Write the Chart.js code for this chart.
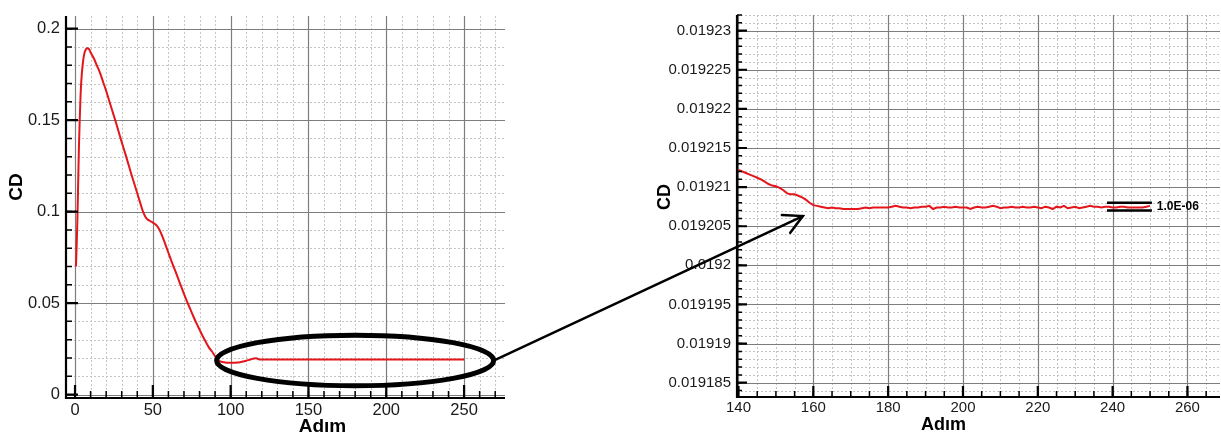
<!DOCTYPE html>
<html><head><meta charset="utf-8">
<script src="https://cdn.jsdelivr.net/npm/chart.js@4"></script>
<style>
html,body{margin:0;padding:0;background:#fff;width:1221px;height:437px;overflow:hidden;}
#wrapL{position:absolute;left:0;top:0;width:520px;height:437px;}
#wrapR{position:absolute;left:640px;top:0;width:581px;height:437px;}
#overlay{position:absolute;left:0;top:0;width:1221px;height:437px;pointer-events:none;}
</style></head><body>
<div id="wrapL"><canvas id="cL"></canvas></div>
<div id="wrapR"><canvas id="cR"></canvas></div>
<canvas id="overlay" width="1221" height="437"></canvas>
<script>
// ---------------- data ----------------
const xTitle = 'Adım';
const yTitle = 'CD';
const bracketLabel = '1.0E-06';

const leftSteps = [0.6,1,1.5,2,2.5,3,3.5,4,5,6,7,8,9,10,
  12,14,16,18,20,22,24,26,28,30,32,34,36,38,40,42,44,46,48,50,52,54,56,58,60,62,64,66,68,70,
  72,74,76,78,80,82,84,86,88,90,92,94,96,98,100,102,104,106,108,110,112,114,116,117,118,
  120,130,140,150,160,170,180,190,200,210,220,230,240,250];
const leftCD = [0.070,0.080,0.095,0.115,0.135,0.150,0.162,0.171,0.181,0.1865,0.1888,0.1893,0.1888,0.1870,
  0.1840,0.1800,0.1760,0.1710,0.1660,0.1605,0.1550,0.1495,0.1438,0.1380,0.1325,0.1268,0.1210,0.1155,0.1100,0.1045,0.0993,0.0962,0.0950,0.0940,0.0928,0.0905,0.0868,0.0822,0.0775,0.0728,0.0685,0.0640,0.0595,0.0550,
  0.0508,0.0468,0.0428,0.0390,0.0355,0.0320,0.0288,0.0258,0.0235,0.0210,0.0188,0.0179,0.0176,0.0174,0.0174,0.0174,0.0175,0.0177,0.0181,0.0185,0.0190,0.0195,0.0198,0.0197,0.0193,
  0.0192,0.0192,0.0192,0.0192,0.0192,0.0192,0.0192,0.0192,0.0192,0.0192,0.0192,0.0192,0.0192,0.0192];
const leftXTicks = [0,50,100,150,200,250];
const leftXLabels = ['0','50','100','150','200','250'];
const leftYTicks = [0,0.05,0.1,0.15,0.2];
const leftYLabels = ['0','0.05','0.1','0.15','0.2'];

const rightSteps = [140,141,142,143,144,145,146,147,148,149,150,151,152,153,154,155,156,157,158,159,
  160,161,162,163,164,165,166,167,168,169,170,171,172,173,174,175,176,177,178,179,
  180,181,182,183,184,185,186,187,188,189,190,191,192,193,194,195,196,197,198,199,
  200,201,202,203,204,205,206,207,208,209,210,211,212,213,214,215,216,217,218,219,
  220,221,222,223,224,225,226,227,228,229,230,231,232,233,234,235,236,237,238,239,
  240,241,242,243,244,245,246,247,248,249,250];
const rightCD = [0.0192122,0.0192120,0.0192118,0.0192116,0.0192114,0.0192112,0.0192110,0.0192107,0.0192104,0.0192102,
  0.0192101,0.0192099,0.0192096,0.0192092,0.0192091,0.0192091,0.0192089,0.0192087,0.0192084,0.0192080,
  0.0192077,0.0192076,0.0192075,0.0192074,0.0192073,0.0192074,0.0192073,0.0192073,0.0192072,0.0192072,
  0.0192072,0.0192072,0.0192072,0.0192073,0.0192074,0.0192073,0.0192074,0.0192074,0.0192074,0.0192074,
  0.0192074,0.0192075,0.0192076,0.0192075,0.0192074,0.0192074,0.0192073,0.0192074,0.0192074,0.0192075,
  0.0192075,0.0192076,0.0192072,0.0192074,0.0192074,0.0192075,0.0192074,0.0192074,0.0192075,0.0192074,
  0.0192074,0.0192074,0.0192072,0.0192074,0.0192075,0.0192074,0.0192074,0.0192075,0.0192076,0.0192075,
  0.0192073,0.0192074,0.0192074,0.0192075,0.0192074,0.0192074,0.0192075,0.0192074,0.0192074,0.0192075,
  0.0192074,0.0192073,0.0192075,0.0192074,0.0192072,0.0192075,0.0192074,0.0192076,0.0192073,0.0192074,
  0.0192075,0.0192073,0.0192074,0.0192075,0.0192076,0.0192075,0.0192075,0.0192074,0.0192075,0.0192075,
  0.0192074,0.0192074,0.0192075,0.0192075,0.0192074,0.0192074,0.0192074,0.0192074,0.0192074,0.0192075,0.0192076];
const rightXTicks = [140,160,180,200,220,240,260];
const rightXLabels = ['140','160','180','200','220','240','260'];
const rightYTicks = [0.019185,0.01919,0.019195,0.0192,0.019205,0.01921,0.019215,0.01922,0.019225,0.01923];
const rightYLabels = ['0.019185','0.01919','0.019195','0.0192','0.019205','0.01921','0.019215','0.01922','0.019225','0.01923'];

// ---------------- styling / layout ----------------
const FONT = '"Liberation Sans", Arial, Helvetica, sans-serif';
Chart.defaults.font.family = FONT;
const RED = '#e3161c';

function range(start, step, count){ const a=[]; for(let i=0;i<count;i++) a.push(start+i*step); return a; }

const tecplot = {
  id:'tecplot',
  beforeDatasetsDraw(chart, args, o){
    const {ctx, chartArea:a, scales:{x,y}} = chart;
    ctx.save();
    ctx.beginPath(); ctx.rect(a.left,a.top,a.right-a.left,a.bottom-a.top); ctx.clip();
    ctx.lineWidth = 1;
    ctx.strokeStyle = '#c4c4c4'; ctx.setLineDash([2,2]);
    ctx.beginPath();
    o.minorX.forEach(v=>{ const p=Math.round(x.getPixelForValue(v))+0.5; ctx.moveTo(p,a.top); ctx.lineTo(p,a.bottom); });
    o.minorY.forEach(v=>{ const p=Math.round(y.getPixelForValue(v))+0.5; ctx.moveTo(a.left,p); ctx.lineTo(a.right,p); });
    ctx.stroke();
    ctx.setLineDash([]);
    ctx.strokeStyle = '#7d7d7d'; ctx.lineWidth = 1.2;
    ctx.beginPath();
    o.majorX.forEach(v=>{ const p=Math.round(x.getPixelForValue(v))+0.5; ctx.moveTo(p,a.top); ctx.lineTo(p,a.bottom); });
    o.majorY.forEach(v=>{ const p=Math.round(y.getPixelForValue(v))+0.5; ctx.moveTo(a.left,p); ctx.lineTo(a.right,p); });
    ctx.stroke();
    ctx.restore();
  },
  afterDatasetsDraw(chart, args, o){
    const {ctx, chartArea:a, scales:{x,y}} = chart;
    ctx.save();
    ctx.strokeStyle = '#000';
    ctx.lineWidth = 1.5;
    ctx.beginPath();
    o.minorX.forEach(v=>{ const p=x.getPixelForValue(v); ctx.moveTo(p,a.bottom); ctx.lineTo(p,a.bottom-o.minorLen); });
    o.minorY.forEach(v=>{ const p=y.getPixelForValue(v); ctx.moveTo(a.left,p); ctx.lineTo(a.left+o.minorLen,p); });
    ctx.stroke();
    ctx.lineWidth = 2.2;
    ctx.beginPath();
    o.majorX.forEach(v=>{ const p=x.getPixelForValue(v); ctx.moveTo(p,a.bottom); ctx.lineTo(p,a.bottom-o.majorLen); });
    o.majorY.forEach(v=>{ const p=y.getPixelForValue(v); ctx.moveTo(a.left,p); ctx.lineTo(a.left+o.majorLen,p); });
    ctx.stroke();
    ctx.lineWidth = 2.2;
    ctx.beginPath();
    ctx.moveTo(a.left, a.top); ctx.lineTo(a.left, a.bottom+1); ctx.lineTo(a.right, a.bottom+1);
    ctx.stroke();
    ctx.fillStyle = '#000';
    ctx.textAlign = 'center'; ctx.textBaseline = 'middle';
    ctx.font = 'bold ' + o.xTitleSize + 'px ' + FONT;
    ctx.fillText(xTitle, x.getPixelForValue(o.xTitleAt), o.xTitleY);
    ctx.save();
    ctx.translate(o.yTitleX, o.yTitleY); ctx.rotate(-Math.PI/2);
    ctx.font = 'bold ' + o.yTitleSize + 'px ' + FONT;
    ctx.fillText(yTitle, 0, 0);
    ctx.restore();
    if (o.ellipse){
      const e=o.ellipse;
      const cx=x.getPixelForValue(e.cx), cy=y.getPixelForValue(e.cy);
      const rx=x.getPixelForValue(e.cx+e.rx)-cx, ry=cy-y.getPixelForValue(e.cy+e.ry);
      ctx.lineWidth=5; ctx.strokeStyle='#000';
      ctx.beginPath(); ctx.ellipse(cx,cy,rx,ry,0,0,Math.PI*2); ctx.stroke();
    }
    if (o.bracket){
      const b=o.bracket;
      const x0=x.getPixelForValue(b.x0), x1=x.getPixelForValue(b.x1);
      ctx.lineWidth=2.5; ctx.strokeStyle='#000';
      ctx.beginPath();
      [b.yTop,b.yBot].forEach(v=>{ const p=y.getPixelForValue(v); ctx.moveTo(x0,p); ctx.lineTo(x1,p); });
      ctx.stroke();
      ctx.font='bold 12px '+FONT; ctx.textAlign='left'; ctx.textBaseline='middle';
      ctx.fillText(bracketLabel, x.getPixelForValue(b.textX), y.getPixelForValue((b.yTop+b.yBot)/2)+0.5);
    }
    ctx.restore();
  }
};

function makeChart(canvas, cfg){
  return new Chart(canvas, {
    type:'line',
    data:{ datasets:[{ data: cfg.xs.map((v,i)=>({x:v, y:cfg.ys[i]})), borderColor:RED, borderWidth:cfg.lineWidth,
      pointRadius:0, fill:false, tension:cfg.tension, cubicInterpolationMode:cfg.cubic }]},
    options:{
      responsive:true, maintainAspectRatio:false, animation:false, devicePixelRatio:1,
      layout:{ padding:cfg.padding },
      plugins:{ legend:{display:false}, tooltip:{enabled:false}, tecplot:cfg.deco },
      scales:{
        x:{ type:'linear', min:cfg.xMin, max:cfg.xMax,
          afterBuildTicks:s=>{ s.ticks = cfg.xTicks.map(v=>({value:v})); },
          afterFit:s=>{ s.height = cfg.xAxisH; },
          grid:{display:false, drawTicks:false}, border:{display:false},
          ticks:{ callback:(v,i)=>cfg.xLabels[i], autoSkip:false, maxRotation:0, padding:cfg.xPad,
            color:'#1a1a1a', font:{size:cfg.tickSize} } },
        y:{ type:'linear', min:cfg.yMin, max:cfg.yMax,
          afterBuildTicks:s=>{ s.ticks = cfg.yTicks.map(v=>({value:v})); },
          afterFit:s=>{ s.width = cfg.yAxisW; },
          grid:{display:false, drawTicks:false}, border:{display:false},
          ticks:{ callback:(v,i)=>cfg.yLabels[i], autoSkip:false, padding:cfg.yPad,
            color:'#1a1a1a', font:{size:cfg.tickSize} } }
      }
    },
    plugins:[tecplot]
  });
}

const chartL = makeChart(document.getElementById('cL'), {
  xs:leftSteps, ys:leftCD, lineWidth:2, tension:0.4, cubic:'monotone',
  padding:{top:11,right:15,left:0,bottom:0},
  xMin:-5.8, xMax:276.3, yMin:-0.00135, yMax:0.207,
  xTicks:leftXTicks, xLabels:leftXLabels, yTicks:leftYTicks, yLabels:leftYLabels,
  xAxisH:40, yAxisW:66, xPad:4, yPad:6, tickSize:16.5,
  deco:{ minorX:range(10,10,27), majorX:leftXTicks, minorY:range(0.01,0.01,20), majorY:leftYTicks,
    minorLen:6, majorLen:12, xTitleAt:159, xTitleY:427, xTitleSize:19, yTitleX:17, yTitleY:187, yTitleSize:19,
    ellipse:{cx:180, cy:0.0186, rx:89, ry:0.01384} }
});

const chartR = makeChart(document.getElementById('cR'), {
  xs:rightSteps, ys:rightCD, lineWidth:2, tension:0, cubic:'default',
  padding:{top:8,right:1,left:0,bottom:0},
  xMin:139.6, xMax:268.7, yMin:0.0191833, yMax:0.019232,
  xTicks:rightXTicks, xLabels:rightXLabels, yTicks:rightYTicks, yLabels:rightYLabels,
  xAxisH:41, yAxisW:97, xPad:3, yPad:6, tickSize:15,
  deco:{ minorX:range(145,5,25), majorX:rightXTicks, minorY:range(0.019184,0.000001,49), majorY:rightYTicks,
    minorLen:5, majorLen:10, xTitleAt:194.8, xTitleY:425, xTitleSize:18, yTitleX:25, yTitleY:197, yTitleSize:18,
    bracket:{x0:238.5, x1:250.5, yTop:0.019208, yBot:0.019207, textX:251.8} }
});

(function(){
  const ov = document.getElementById('overlay').getContext('2d');
  const e = chartL.options.plugins.tecplot.ellipse;
  const sx = chartL.scales.x.getPixelForValue(e.cx + e.rx);
  const sy = chartL.scales.y.getPixelForValue(e.cy);
  const ex = chartR.scales.x.getPixelForValue(157.2) + 640;
  const ey = chartR.scales.y.getPixelForValue(0.0192063);
  ov.strokeStyle='#000'; ov.lineWidth=2.5; ov.lineCap='round';
  ov.beginPath(); ov.moveTo(sx,sy); ov.lineTo(ex,ey); ov.stroke();
  const ang = Math.atan2(sy-ey, sx-ex), L=21, spread=28*Math.PI/180;
  ov.beginPath();
  ov.moveTo(ex+L*Math.cos(ang+spread), ey+L*Math.sin(ang+spread)); ov.lineTo(ex,ey);
  ov.lineTo(ex+L*Math.cos(ang-spread), ey+L*Math.sin(ang-spread));
  ov.stroke();
})();
</script>
</body></html>
